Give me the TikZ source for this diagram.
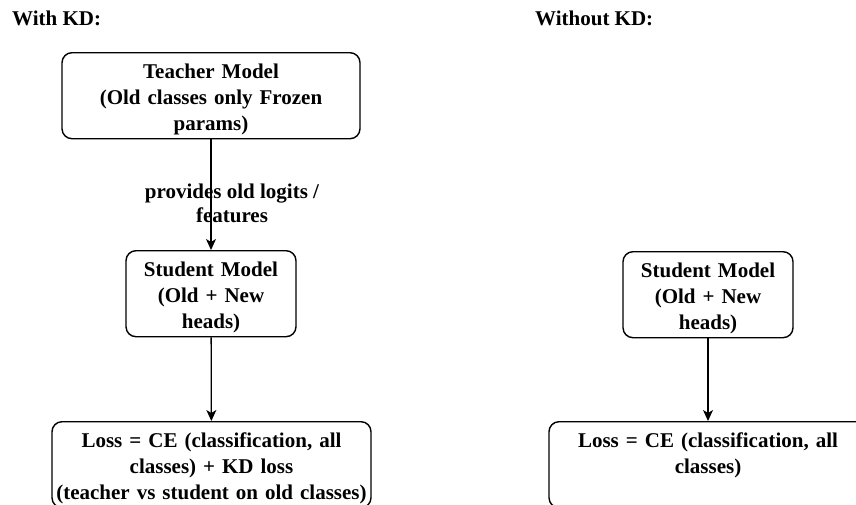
\documentclass[tikz,border=0pt]{standalone}
\usepackage{fontspec}
\setmainfont{Liberation Serif}
\usepackage{tikz}
\usetikzlibrary{arrows.meta,positioning}

\begin{document}
\begin{tikzpicture}
  [x=1pt,y=-1pt,
  font=\fontsize{21}{26}\selectfont\bfseries,
  >={Stealth[length=11pt,width=10pt,inset=3pt]},
  flow/.style={->,line width=1.3pt},
  heading/.style={anchor=base west,inner sep=0pt},
  block/.style={rectangle,rounded corners=10pt,draw,line width=1.4pt,anchor=north,
    align=center,inner xsep=0pt,inner ysep=11pt,text height=15pt,text depth=49pt},
  edgetext/.style={align=center,inner sep=0pt,font=\fontsize{21}{24}\selectfont\bfseries}
  ]
  \useasboundingbox (0,0) rectangle (856,504);
  \clip (0,0) rectangle (856,504);

  % with distillation
  \node[heading] (withkd) at (12,25) {With KD:};
  \node[block,text width=298pt] (teacher) at (211,52) {Teacher Model\\(Old classes only Frozen\\params)};
  \node[block,text width=170pt] (student) at (211,250) {Student Model\\(Old + New\\heads)};
  \node[block,text width=319pt] (loss) at (211.5,421) {Loss = CE (classification, all\\classes) + KD loss\\(teacher vs student on old classes)};
  \draw[flow] (teacher) -- node[edgetext,xshift=21pt,yshift=-9pt] (provides) {provides old logits /\\features} (student);
  \draw[flow] (student) -- (loss);

  % without distillation
  \node[heading] (withoutkd) at (535,25) {Without KD:};
  \node[block,text width=170pt] (studentb) at (708,251) {Student Model\\(Old + New\\heads)};
  \node[block,text width=318pt] (lossb) at (708,421) {Loss = CE (classification, all\\classes)};
  \draw[flow] (studentb) -- (lossb);
\end{tikzpicture}
\end{document}
